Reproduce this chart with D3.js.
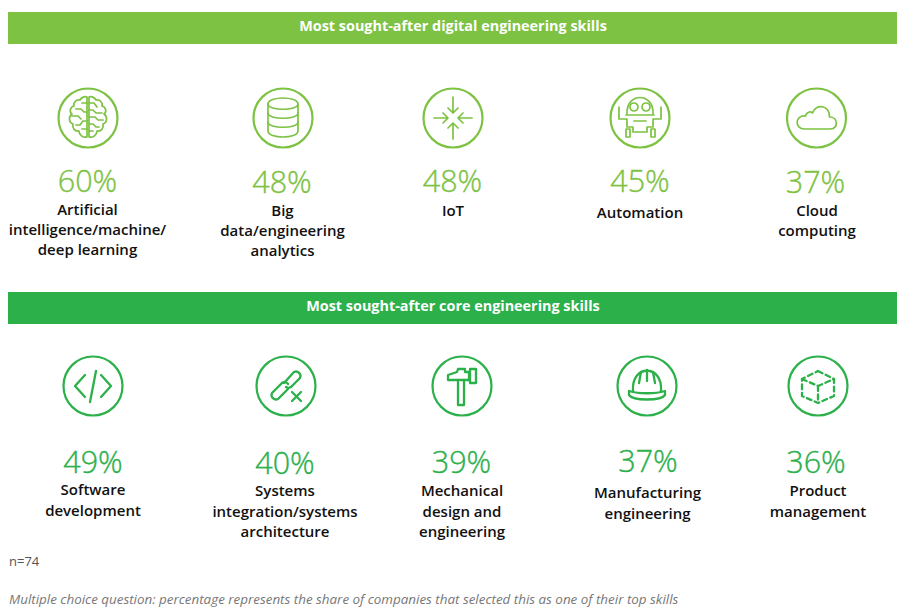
<!DOCTYPE html>
<html>
<head>
<meta charset="utf-8">
<script src="https://cdn.jsdelivr.net/npm/d3@7"></script>
<style>
  html, body { margin: 0; padding: 0; background: #fff; }
  svg { display: block; }
  text { font-family: "Open Sans", sans-serif; }
</style>
</head>
<body>
<div id="chart"></div>
<script>
var width = 903, height = 615;

// data
var digitalTitle = "Most sought-after digital engineering skills";
var digitalIcons = ["brain", "database", "iot", "robot", "cloud"];
var digitalValues = [60, 48, 48, 45, 37];
var digitalLabels = [
  ["Artificial", "intelligence/machine/", "deep learning"],
  ["Big", "data/engineering", "analytics"],
  ["IoT"],
  ["Automation"],
  ["Cloud", "computing"]
];

var coreTitle = "Most sought-after core engineering skills";
var coreIcons = ["code", "link", "hammer", "helmet", "cube"];
var coreValues = [49, 40, 39, 37, 36];
var coreLabels = [
  ["Software", "development"],
  ["Systems", "integration/systems", "architecture"],
  ["Mechanical", "design and", "engineering"],
  ["Manufacturing", "engineering"],
  ["Product", "management"]
];

var sampleNote = "n=74";
var footNote = "Multiple choice question: percentage represents the share of companies that selected this as one of their top skills";

// layout
var digitalX = d3.scaleOrdinal().domain(digitalIcons).range([88, 283, 453, 640, 816.5]);
var coreX = d3.scaleOrdinal().domain(coreIcons).range([93, 286, 462, 647, 818]);
var digitalValueX = d3.scaleOrdinal().domain(digitalIcons).range([87.5, 282, 452.5, 640, 815.5]);
var coreValueX = d3.scaleOrdinal().domain(coreIcons).range([93, 285, 461.5, 648, 816]);
var digitalLabelX = d3.scaleOrdinal().domain(digitalIcons).range([87.5, 282.5, 453, 640, 817]);
var coreLabelX = d3.scaleOrdinal().domain(coreIcons).range([93, 285, 462, 647.5, 818]);

var digitalValueY = d3.scaleOrdinal().domain(digitalIcons).range([192, 193, 192, 192, 193]);
var coreValueY = d3.scaleOrdinal().domain(coreIcons).range([473, 474, 473, 472, 473]);
var digitalLabelY = d3.scaleOrdinal().domain(digitalIcons).range([215, 216, 216, 218, 216]);
var coreLabelY = d3.scaleOrdinal().domain(coreIcons).range([495, 496, 496, 498, 496]);
var digitalLineH = 20, coreLineH = 20.6;

var lightGreen = "#7dc242", darkGreen = "#2bb04a";

// icon drawings, in pixels around the ring centre
var iconPaths = {
  brain: [
    "M-1,-21 C-4,-22 -7,-20 -8,-18 C-12,-19 -15,-15 -14,-12 C-18,-11 -19,-6 -16,-4 C-20,-1 -19,5 -15,6 C-16,10 -13,14 -9,13 C-9,17 -5,20 -1,19 Z",
    "M1,-21 C4,-22 7,-20 8,-18 C12,-19 15,-15 14,-12 C18,-11 19,-6 16,-4 C20,-1 19,5 15,6 C16,10 13,14 9,13 C9,17 5,20 1,19 Z",
    "M-1,-15 L-6,-15 M-12,-9 L-7,-9 L-4,-6 L-1,-6 M-16,-2 L-10,-2 L-7,1 M-1,3 L-5,3 L-8,7 L-12,7 M-1,11 L-6,11",
    "M1,-15 L6,-15 L9,-11 M1,-8 L5,-8 L8,-5 L14,-5 M1,-1 L7,-1 L10,2 L15,2 M1,6 L5,6 L8,9 L11,9 M1,13 L5,13"
  ],
  database: [
    "M-15,-14 C-15,-22 15,-22 15,-14 L15,13 C15,21 -15,21 -15,13 Z",
    "M-15,-14 C-15,-7 15,-7 15,-14",
    "M-15,-5 C-15,2 15,2 15,-5",
    "M-15,4 C-15,11 15,11 15,4"
  ],
  iot: [
    "M0,-21 L0,-5 M-5,-10 L0,-5 L5,-10",
    "M0,21 L0,5 M-5,10 L0,5 L5,10",
    "M-19,0 L-5,0 M-10,-5 L-5,0 L-10,5",
    "M19,0 L5,0 M10,-5 L5,0 L10,5"
  ],
  robot: [
    "M-13,-4 C-14,-26 14,-26 13,-4",
    "M-14,-3 L14,-3",
    "M-21,-11 L-21,1 L-13,1 L-13,9 L-7,9 L-7,14 L7,14 L7,9 L13,9 L13,1 L21,1 L21,-11",
    "M-6,3 L6,3",
    "M-14,11 L-14,19 L-10,19 L-10,11 Z",
    "M11,11 L11,19 L15,19 L15,11 Z",
    "M-10,-11 A4,4 0 1 1 -2,-11 A4,4 0 1 1 -10,-11 Z",
    "M2,-11 A4,4 0 1 1 10,-11 A4,4 0 1 1 2,-11 Z"
  ],
  cloud: [
    "M-12,11 C-22,11 -22,-3 -11,-2 C-10,-6 -6,-7 -4,-5 C-1,-15 14,-13 13,-1 C22,-1 22,11 14,11 Z"
  ],
  code: [
    "M-8,-11 L-18,0 L-8,11",
    "M8,-11 L18,0 L8,11",
    "M3,-15 L-3,16"
  ],
  link: [
    "M2,3 L-8,13 A4.5,4.5 0 0 1 -14,7 L-4,-3 A4.5,4.5 0 0 1 2,-2",
    "M-2,-3 L8,-14 A4.5,4.5 0 0 1 14,-8 L6,0 A4.5,4.5 0 0 1 0,1",
    "M6,6 L15,15 M15,6 L6,15"
  ],
  hammer: [
    "M-14,-7 L-14,-11 L-5,-14 L-4,-17 L3,-17 L3,-14 L7,-14 L7,-6 L-14,-6 Z",
    "M8,-17 L14,-17 L14,-3 L8,-3 Z",
    "M-4,-6 L-4,19 L2,19 L2,-6"
  ],
  helmet: [
    "M-14,5 C-16,-22 16,-22 14,5",
    "M-18,5 C-8,8 8,8 18,5 L18,9 C14,15 -14,15 -18,9 Z",
    "M-6,-14 L-8,-3 M0,-16 L0,-5 M6,-14 L8,-3"
  ],
  cube: [
    "M0,-15 L16,-7 L16,10 L0,17 L-16,10 L-16,-7 Z",
    "M-16,-7 L0,0 L16,-7 M0,0 L0,17"
  ]
};

var heavyIcons = ["code", "cube", "link", "helmet", "hammer"];

var svg = d3.select("#chart").append("svg").attr("width", width).attr("height", height);

var drawSection = function(title, bandY, color, icons, values, labels, x, valueX, labelX, valueY, labelY, lineH, ringY) {
  svg.append("rect")
    .attr("x", 8).attr("y", bandY).attr("width", 889).attr("height", 32)
    .attr("fill", color);
  svg.append("text")
    .attr("x", 453).attr("y", bandY + 19)
    .attr("text-anchor", "middle")
    .attr("font-size", 14.4).attr("font-weight", 700).attr("fill", "#fff")
    .text(title);

  var items = svg.selectAll(null).data(icons).enter().append("g");

  var rings = items.append("g")
    .attr("transform", function(d) { return "translate(" + x(d) + "," + ringY + ")"; })
    .attr("fill", "none").attr("stroke", color).attr("stroke-linejoin", "round").attr("stroke-linecap", "round");
  rings.append("circle").attr("r", 29.5).attr("stroke-width", 2.2);
  rings.each(function(d) {
    d3.select(this).selectAll("path").data(iconPaths[d]).enter().append("path")
      .attr("d", function(p) { return p; })
      .attr("stroke-width", heavyIcons.indexOf(d) >= 0 ? 2.3 : 1.7)
      .attr("stroke-dasharray", d === "cube" ? "5 3.5" : null);
  });

  items.append("text")
    .attr("x", function(d) { return valueX(d); })
    .attr("y", function(d) { return valueY(d); })
    .attr("text-anchor", "middle")
    .attr("font-size", 30.5).attr("font-weight", 300).attr("fill", color)
    .attr("stroke", color).attr("stroke-width", 0.35)
    .text(function(d, i) { return values[i] + "%"; });

  items.each(function(d, i) {
    d3.select(this).selectAll("text.lab").data(labels[i]).enter().append("text")
      .attr("class", "lab")
      .attr("x", labelX(d))
      .attr("y", function(l, j) { return labelY(d) + j * lineH; })
      .attr("text-anchor", "middle")
      .attr("font-size", 15).attr("font-weight", 600).attr("fill", "#111")
      .text(function(l) { return l; });
  });
};

drawSection(digitalTitle, 12, lightGreen, digitalIcons, digitalValues, digitalLabels, digitalX, digitalValueX, digitalLabelX, digitalValueY, digitalLabelY, digitalLineH, 118);
drawSection(coreTitle, 292, darkGreen, coreIcons, coreValues, coreLabels, coreX, coreValueX, coreLabelX, coreValueY, coreLabelY, coreLineH, 386);

svg.append("text").attr("x", 9).attr("y", 566)
  .attr("font-size", 13).attr("fill", "#555").text(sampleNote);
svg.append("text").attr("x", 9).attr("y", 604)
  .attr("font-size", 13.4).attr("font-style", "italic").attr("fill", "#777").text(footNote);
</script>
</body>
</html>
